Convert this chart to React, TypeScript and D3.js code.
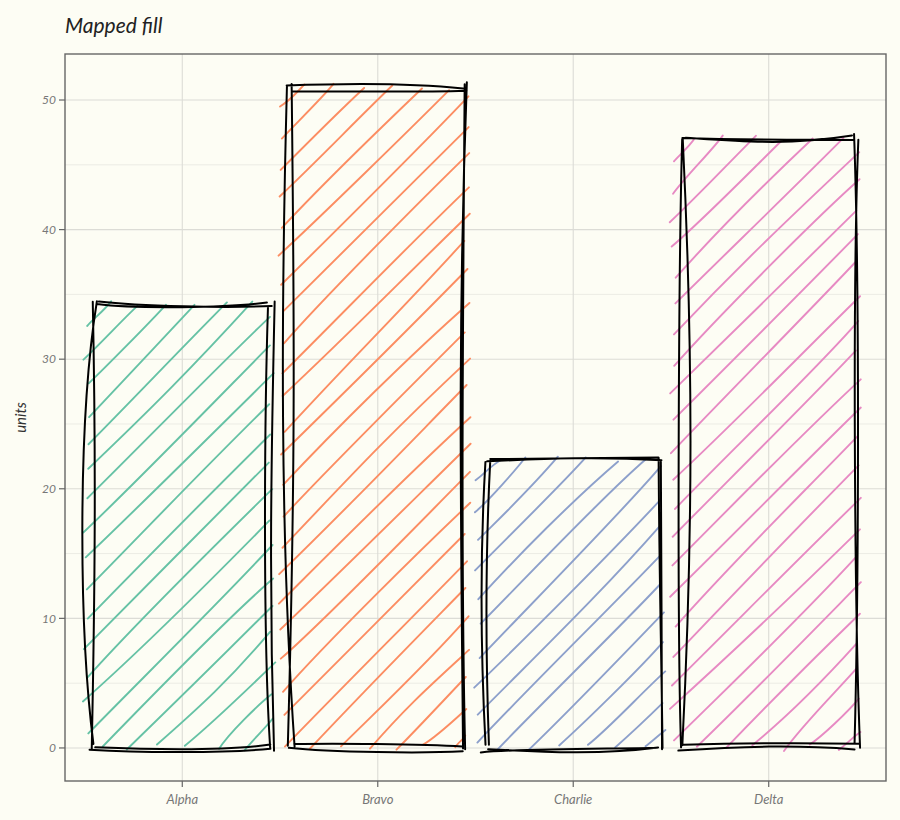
import * as d3 from "d3";
import React from "react";

const categories = ["Alpha", "Bravo", "Charlie", "Delta"];
const values = [34.2, 51.0, 22.3, 47.0];
const fills = ["#66c2a5", "#fc8d62", "#8da0cb", "#e78ac3"];
const yTicks = [0, 10, 20, 30, 40, 50];
const yMinor = [5, 15, 25, 35, 45];

const W = 900;
const H = 820;
const panel = { left: 65, right: 886, top: 54, bottom: 781 };
const bg = "#fdfdf4";
const font = "'Lato', 'DejaVu Sans', sans-serif";

// small seeded generator, only used for the pencil wobble of the strokes
function mulberry32(seed: number) {
  let a = seed;
  return () => {
    a |= 0;
    a = (a + 0x6d2b79f5) | 0;
    let t = Math.imul(a ^ (a >>> 15), 1 | a);
    t = (t + Math.imul(t ^ (t >>> 7), 61 | t)) ^ t;
    return ((t ^ (t >>> 14)) >>> 0) / 4294967296;
  };
}

type Rnd = () => number;

function roughLine(
  x1: number,
  y1: number,
  x2: number,
  y2: number,
  rnd: Rnd,
  endJitter: number,
  bow: number
) {
  const len = Math.hypot(x2 - x1, y2 - y1);
  const j = (v: number) => (rnd() * 2 - 1) * v;
  const nx = -(y2 - y1) / (len || 1);
  const ny = (x2 - x1) / (len || 1);
  const b = j(bow * len);
  const d = 0.2 + rnd() * 0.2;
  const ax = x1 + j(endJitter);
  const ay = y1 + j(endJitter);
  const c1x = x1 + (x2 - x1) * d + nx * b + j(endJitter * 0.5);
  const c1y = y1 + (y2 - y1) * d + ny * b + j(endJitter * 0.5);
  const c2x = x1 + (x2 - x1) * (1 - d) + nx * b + j(endJitter * 0.5);
  const c2y = y1 + (y2 - y1) * (1 - d) + ny * b + j(endJitter * 0.5);
  const bx = x2 + j(endJitter);
  const by = y2 + j(endJitter);
  return `M${ax},${ay}C${c1x},${c1y} ${c2x},${c2y} ${bx},${by}`;
}

function roughRect(x0: number, y0: number, x1: number, y1: number, rnd: Rnd) {
  const edges: [number, number, number, number][] = [
    [x0, y0, x1, y0],
    [x1, y0, x1, y1],
    [x1, y1, x0, y1],
    [x0, y1, x0, y0],
  ];
  const parts: string[] = [];
  edges.forEach((e) => {
    parts.push(roughLine(e[0], e[1], e[2], e[3], rnd, 5, 0.035));
    parts.push(roughLine(e[0], e[1], e[2], e[3], rnd, 3.5, 0.03));
  });
  return parts.join("");
}

function hachure(x0: number, y0: number, x1: number, y1: number, gap: number, rnd: Rnd) {
  const parts: string[] = [];
  const step = gap * Math.SQRT2;
  for (let c = x0 + y0 + step * 0.5; c < x1 + y1; c += step) {
    const xa = Math.max(x0 - 8, c - y1);
    const xb = Math.min(x1 + 2, c - y0);
    if (xb - xa < 2) continue;
    parts.push(roughLine(xa, c - xa, xb, c - xb, rnd, 3.5, 0.008));
  }
  return parts.join("");
}

export default function App() {
  const x = d3
    .scaleBand<string>()
    .domain(categories)
    .range([panel.left, panel.right])
    .paddingInner(0.1)
    .paddingOuter(0.15);
  const maxV = d3.max(values) as number;
  const y = d3
    .scaleLinear()
    .domain([-0.05 * maxV, maxV * 1.05])
    .range([panel.bottom, panel.top]);

  const bars = categories.map((c, i) => {
    const rnd = mulberry32(23 + i * 131);
    const x0 = x(c)!;
    const x1 = x0 + x.bandwidth();
    const yt = y(values[i]);
    const yb = y(0);
    return {
      c,
      fill: fills[i],
      hatch: hachure(x0, yt, x1, yb, 20.5, rnd),
      outline: roughRect(x0, yt, x1, yb, rnd),
    };
  });

  return (
    <svg width={W} height={H} style={{ display: "block", position: "absolute", left: 0, top: 0 }}>
      <rect width={W} height={H} fill={bg} />
      <text x={65} y={33} fontFamily={font} fontStyle="italic" fontSize={21} fill="#222">
        Mapped fill
      </text>
      {/* grid */}
      {yMinor.map((v) => (
        <line key={"m" + v} x1={panel.left} x2={panel.right} y1={y(v)} y2={y(v)} stroke="#ecece4" strokeWidth={1} />
      ))}
      {yTicks.map((v) => (
        <line key={"g" + v} x1={panel.left} x2={panel.right} y1={y(v)} y2={y(v)} stroke="#dcdcd6" strokeWidth={1.1} />
      ))}
      {categories.map((c) => {
        const cx = x(c)! + x.bandwidth() / 2;
        return <line key={"v" + c} x1={cx} x2={cx} y1={panel.top} y2={panel.bottom} stroke="#dcdcd6" strokeWidth={1.1} />;
      })}
      {/* bars */}
      {bars.map((b) => (
        <g key={b.c}>
          <path d={b.hatch} fill="none" stroke={b.fill} strokeWidth={1.9} strokeLinecap="round" />
          <path d={b.outline} fill="none" stroke="#000" strokeWidth={2} strokeLinecap="round" />
        </g>
      ))}
      {/* panel border */}
      <rect
        x={panel.left}
        y={panel.top}
        width={panel.right - panel.left}
        height={panel.bottom - panel.top}
        fill="none"
        stroke="#666"
        strokeWidth={1.4}
      />
      {/* y axis */}
      {yTicks.map((v) => (
        <g key={"yt" + v}>
          <line x1={panel.left - 6} x2={panel.left} y1={y(v)} y2={y(v)} stroke="#666" strokeWidth={1.2} />
          <text
            x={panel.left - 9}
            y={y(v)}
            dy="0.35em"
            textAnchor="end"
            fontFamily={font}
            fontStyle="italic"
            fontSize={12}
            fill="#777"
          >
            {v}
          </text>
        </g>
      ))}
      {/* x axis */}
      {categories.map((c) => {
        const cx = x(c)! + x.bandwidth() / 2;
        return (
          <g key={"xt" + c}>
            <line x1={cx} x2={cx} y1={panel.bottom} y2={panel.bottom + 6} stroke="#666" strokeWidth={1.2} />
            <text
              x={cx}
              y={panel.bottom + 23}
              textAnchor="middle"
              fontFamily={font}
              fontStyle="italic"
              fontSize={13}
              fill="#777"
            >
              {c}
            </text>
          </g>
        );
      })}
      <text
        transform={`translate(26,${(panel.top + panel.bottom) / 2}) rotate(-90)`}
        textAnchor="middle"
        fontFamily={font}
        fontStyle="italic"
        fontSize={15}
        fill="#333"
      >
        units
      </text>
    </svg>
  );
}
